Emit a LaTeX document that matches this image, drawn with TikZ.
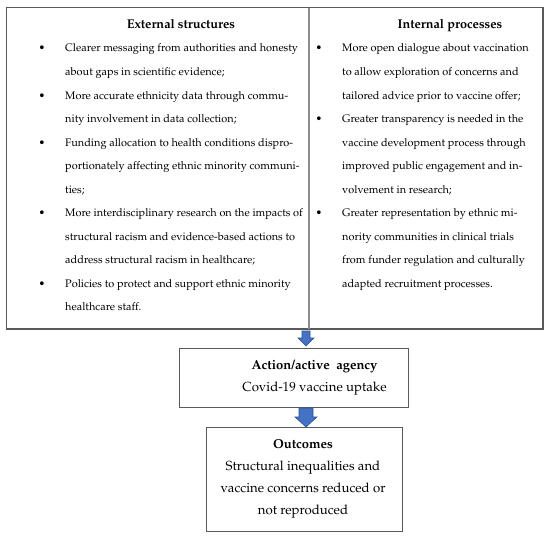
\documentclass[tikz,border=0pt]{standalone}
\usepackage[T1]{fontenc}
\usepackage{mathpazo}
\usetikzlibrary{calc}
\definecolor{boxline}{HTML}{5A5A5A}
\definecolor{divline}{HTML}{8C8C8C}
\definecolor{arrfill}{HTML}{4472C4}
\definecolor{arrline}{HTML}{2F528F}
\tikzset{
  box/.style={draw=boxline, line width=1pt, rectangle, inner sep=0pt, anchor=north west},
  txt/.style={anchor=base west, inner sep=0pt, font=\fontsize{10.95}{13}\selectfont},
  ctxt/.style={anchor=base, inner sep=0pt, font=\fontsize{13.2}{15}\selectfont},
  head/.style={anchor=base, inner sep=0pt, font=\fontsize{12.7}{15}\selectfont\bfseries},
  bhead/.style={anchor=base, inner sep=0pt, font=\fontsize{13}{15}\selectfont\bfseries},
  bul/.style={anchor=base, inner sep=0pt, font=\fontsize{10.95}{13}\selectfont},
  blockarrow/.style={fill=arrfill, draw=arrline, line width=0.6pt, line join=miter},
}
\newcommand\blkarrow[5]{%
  \path (#1) coordinate (bs) (#2) coordinate (be);
  \draw[blockarrow] ($(bs)+(-#3,0)$) -- ($(be)+(-#3,-#5)$) -- ($(be)+(-#4,-#5)$) -- (be)
     -- ($(be)+(#4,-#5)$) -- ($(be)+(#3,-#5)$) -- ($(bs)+(#3,0)$) -- cycle;}
\begin{document}
\begin{tikzpicture}[x=1pt, y=-1pt]
\useasboundingbox (0,0) rectangle (550,538);
% boxes
\node[box, minimum width=303pt, minimum height=321pt] (ext) at (6,7) {};
\node[box, minimum width=233pt, minimum height=321pt] (int) at (309,7) {};
\node[box, minimum width=229pt, minimum height=59pt] (act) at (179,348) {};
\node[box, minimum width=196pt, minimum height=104pt] (out) at (206,427) {};
\draw[draw=divline, line width=1.6pt] (int.north west) -- (int.south west);
\draw[draw=boxline, line width=1pt] (ext.north west) rectangle (int.south east);
% headings
\node[head] (exth) at (181,28) {External structures};
\node[head] (inth) at (450,28) {Internal processes};
% left column
\foreach \t [count=\i] in {
  Clearer messaging from authorities and honesty,
  about gaps in scientific evidence;,
  More accurate ethnicity data through commu-,
  nity involvement in data collection;,
  Funding allocation to health conditions dispro-,
  portionately affecting ethnic minority communi-,
  ties;,
  More interdisciplinary research on the impacts of,
  structural racism and evidence-based actions to,
  address structural racism in healthcare;,
  Policies to protect and support ethnic minority,
  healthcare staff.}
  \node[txt] (L\i) at (65,{52+23.5*(\i-1)}) {\t};
\foreach \i in {1,3,5,8,11}
  \node[bul] (LB\i) at (42,{52+23.5*(\i-1)}) {\textbullet};
% right column
\foreach \t [count=\i] in {
  More open dialogue about vaccination,
  to allow exploration of concerns and,
  tailored advice prior to vaccine offer;,
  Greater transparency is needed in the,
  vaccine development process through,
  improved public engagement and in-,
  volvement in research;,
  Greater representation by ethnic mi-,
  nority communities in clinical trials,
  from funder regulation and culturally,
  adapted recruitment processes.}
  \node[txt] (R\i) at (342,{52+23.5*(\i-1)}) {\t};
\foreach \i in {1,4,8}
  \node[bul] (RB\i) at (319,{52+23.5*(\i-1)}) {\textbullet};
% action box
\node[bhead] (acth) at (314.5,369) {Action/active\hspace{0.25em} agency};
\node[ctxt] (actt) at (314.5,391) {Covid-19 vaccine uptake};
% outcomes box
\node[bhead] (outh) at (303,448) {Outcomes};
\node[ctxt] (out1) at (303,470) {Structural inequalities and};
\node[ctxt] (out2) at (303,492) {vaccine concerns reduced or};
\node[ctxt] (out3) at (303,514) {not reproduced};
% arrows
\coordinate (ax) at (306,0);
\blkarrow{$(ext.south -| ax)+(0,2)$}{$(act.north -| ax)+(0,-2)$}{4}{8}{8}
\blkarrow{act.south -| ax}{out.north -| ax}{7}{11}{10}
\end{tikzpicture}
\end{document}
